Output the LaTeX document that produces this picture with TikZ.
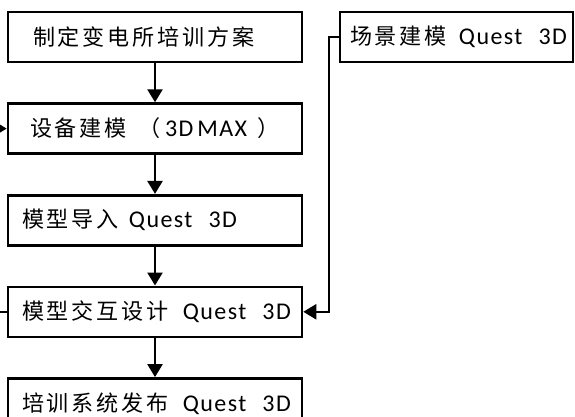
\documentclass[tikz,border=0pt]{standalone}
\usepackage{fontspec}
\setmainfont{Carlito}[LetterSpace=6]
\newfontfamily\cjk{Noto Sans CJK SC}[LetterSpace=13,Scale=0.92]
\usetikzlibrary{positioning, arrows.meta}

\tikzset{
    stepbox/.style={draw, line width=2.6pt, minimum width=294pt, minimum height=50pt,
        text width=266pt, inner xsep=14pt, align=left, font=\fontsize{24}{26}\selectfont},
    flow/.style={line width=2.4pt, -{Triangle[length=13pt,width=15pt]}}
}

\begin{document}
\begin{tikzpicture}[x=1pt, y=1pt, node distance=39pt]
        \clip (0,0) rectangle (575,416);

        % Draw the steps
        \node[stepbox] (plan) at (155,379) {\mbox{\hspace{11pt}{\cjk 制定变电所培训方案}}};
        \node[stepbox, below=of plan] (equip) {\mbox{\hspace{8pt}{\cjk 设备建模}\hspace{12pt}{\cjk （}\hspace{4pt}3D\,MAX\hspace{10pt}{\cjk ）}}};
        \node[stepbox, below=of equip] (import) {\mbox{{\cjk 模型导入}\hspace{10pt}Quest\hspace{16pt}3D}};
        \node[stepbox, below=of import] (interact) {\mbox{{\cjk 模型交互设计}\hspace{14pt}Quest\hspace{16pt}3D}};
        \node[stepbox, below=of interact] (release) {\mbox{{\cjk 培训系统发布}\hspace{14pt}Quest\hspace{16pt}3D}};
        \node[stepbox, minimum width=233pt, text width=213pt, inner xsep=10pt] (scene) at (456.5,379) {\mbox{{\cjk 场景建模}\hspace{12pt}Quest\hspace{16pt}3D}};

        % Free ends at the left border
        \coordinate (backin) at ([xshift=-12pt]equip.west);
        \coordinate (backout) at ([xshift=-12pt]interact.west);

        % Connect the steps
        \draw[flow] (plan) -- (equip);
        \draw[flow] (equip) -- (import);
        \draw[flow] (import) -- (interact);
        \draw[flow] (interact) -- (release);
        \draw[flow] (scene.west) -- ++(-10,0) |- (interact.east);
        \draw[flow] (backin) -- (equip.west);
        \draw[line width=2.4pt] (interact.west) -- (backout);
    \end{tikzpicture}
\end{document}
